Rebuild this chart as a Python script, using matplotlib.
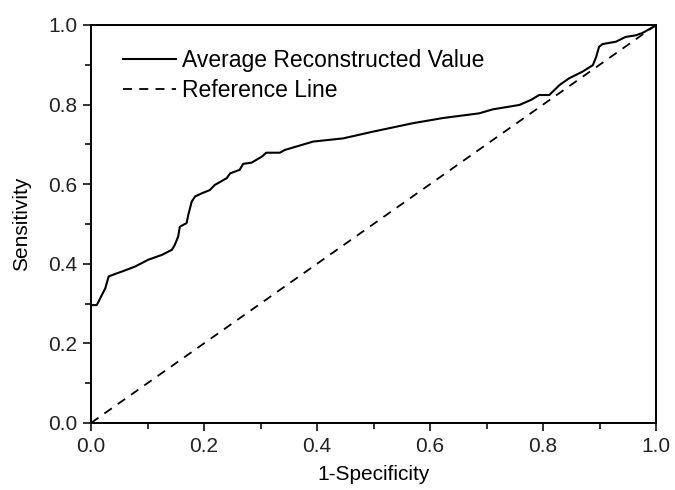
import matplotlib
matplotlib.use("Agg")
import matplotlib.pyplot as plt
from matplotlib.ticker import MultipleLocator

plt.rcParams['font.family'] = ['Liberation Sans', 'DejaVu Sans']

# ROC curve (1-specificity, sensitivity)
fpr = [0.0, 0.010, 0.016, 0.025, 0.031, 0.042, 0.054, 0.078, 0.101, 0.125,
       0.143, 0.148, 0.154, 0.157, 0.169, 0.172, 0.178, 0.184, 0.196, 0.210,
       0.219, 0.240, 0.246, 0.263, 0.269, 0.284, 0.302, 0.310, 0.334, 0.343,
       0.393, 0.446, 0.499, 0.569, 0.622, 0.687, 0.711, 0.758, 0.779, 0.793,
       0.811, 0.829, 0.846, 0.870, 0.888, 0.894, 0.899, 0.905, 0.929, 0.946,
       0.964, 0.976, 0.996, 1.0]
tpr = [0.296, 0.296, 0.313, 0.338, 0.368, 0.374, 0.380, 0.393, 0.410, 0.422,
       0.435, 0.447, 0.468, 0.493, 0.502, 0.523, 0.556, 0.569, 0.577, 0.585,
       0.598, 0.615, 0.627, 0.636, 0.651, 0.654, 0.669, 0.679, 0.679, 0.686,
       0.707, 0.715, 0.732, 0.753, 0.766, 0.778, 0.788, 0.799, 0.812, 0.824,
       0.824, 0.849, 0.866, 0.883, 0.899, 0.920, 0.945, 0.952, 0.958, 0.970,
       0.974, 0.980, 0.996, 1.0]
ref = [0.0, 1.0]

fig = plt.figure(figsize=(6.75, 4.9), dpi=100)
ax = fig.add_axes([0.135, 0.137, 0.837, 0.812])

ax.plot(fpr, tpr, color='black', lw=1.5, label='Average Reconstructed Value')
ax.plot(ref, ref, color='black', lw=1.3, ls=(0, (5, 4)), label='Reference Line')

ax.set_xlim(0, 1)
ax.set_ylim(0, 1)
ax.xaxis.set_major_locator(MultipleLocator(0.2))
ax.xaxis.set_minor_locator(MultipleLocator(0.1))
ax.yaxis.set_major_locator(MultipleLocator(0.2))
ax.yaxis.set_minor_locator(MultipleLocator(0.1))
ax.xaxis.set_major_formatter(lambda v, p: f"{v:.1f}")
ax.yaxis.set_major_formatter(lambda v, p: f"{v:.1f}")
ax.tick_params(which='both', direction='out', width=1.3, labelsize=15,
               top=False, right=False, colors='#222222')
ax.tick_params(which='major', length=6, pad=4)
ax.tick_params(which='minor', length=4)
for s in ax.spines.values():
    s.set_linewidth(1.4)

ax.set_xlabel('1-Specificity', fontsize=15, labelpad=7)
ax.set_ylabel('Sensitivity', fontsize=15, labelpad=12)

ax.legend(loc='upper left', frameon=False, fontsize=16.5, handlelength=2.3,
          handletextpad=0.3, labelspacing=0.3, borderaxespad=0.0,
          bbox_to_anchor=(0.04, 0.963))

fig.savefig('out.png', dpi=100)
